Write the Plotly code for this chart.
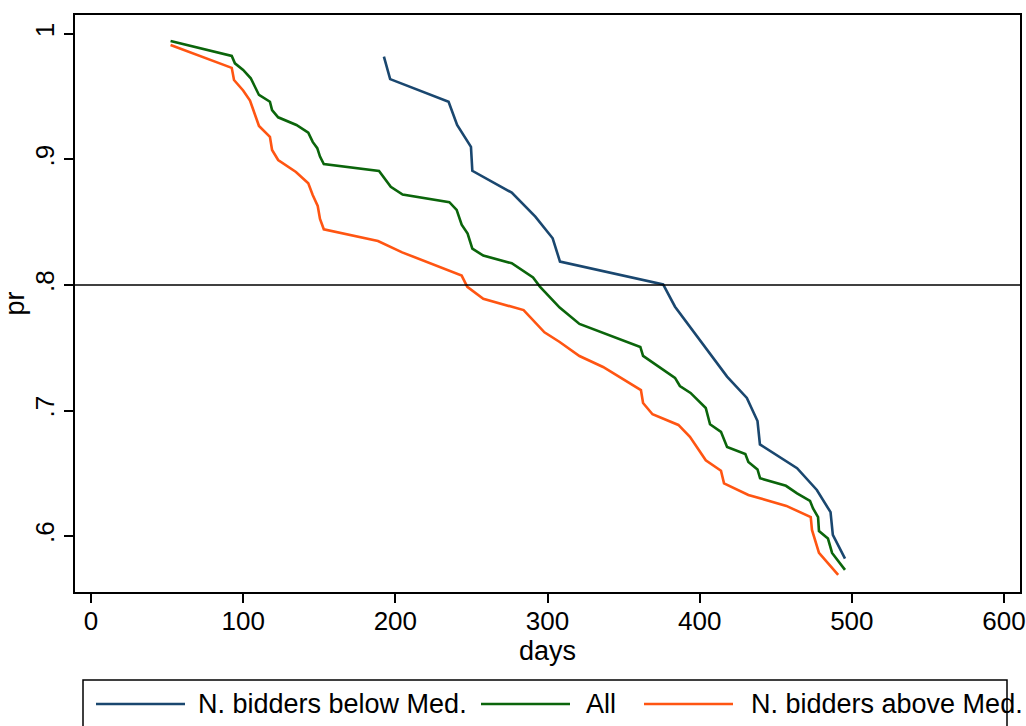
import plotly.graph_objects as go

# ---- data ----
below_days = [192.5, 196.6, 235, 240.6, 249.7, 250.6, 276.5, 292, 303.4, 308.2, 376,
              383.8, 418, 431, 438, 439.6, 464, 477, 486, 487.5, 495.5]
below_pr = [0.982, 0.964, 0.946, 0.9275, 0.910, 0.891, 0.8736, 0.8545, 0.8372, 0.8186, 0.8005,
            0.7827, 0.727, 0.710, 0.6916, 0.673, 0.654, 0.6367, 0.619, 0.601, 0.582]

all_days = [52.3, 92.5, 94.6, 100, 105, 110.4, 117.6, 119, 123, 135, 142.8, 145.7, 148.7, 150.5,
            153, 189.3, 197, 204.8, 235.5, 240.3, 243.6, 247.5, 250.6, 257.8, 276.5, 290.5, 295,
            303.6, 308, 321, 336, 361, 362.8, 383.8, 387, 394, 404, 406.8, 414, 418, 430, 432,
            438, 439.7, 456.7, 464, 472.5, 474.5, 477.8, 478.4, 484.3, 487, 495.5]
all_pr = [0.9944, 0.9825, 0.9766, 0.9713, 0.9647, 0.9514, 0.946, 0.9394, 0.9336, 0.9275, 0.9214,
          0.914, 0.909, 0.9023, 0.8964, 0.8908, 0.8783, 0.872, 0.866, 0.8598, 0.848, 0.841, 0.829,
          0.8234, 0.8173, 0.806, 0.7987, 0.788, 0.782, 0.769, 0.762, 0.7506, 0.7435, 0.726,
          0.7195, 0.714, 0.702, 0.689, 0.683, 0.671, 0.6653, 0.659, 0.653, 0.646, 0.640, 0.634,
          0.628, 0.622, 0.615, 0.604, 0.598, 0.5865, 0.573]

above_days = [52.3, 92.5, 94, 100, 104.5, 110.4, 117.6, 119, 123, 134.7, 142.8, 145.7, 149, 150.5,
              153, 188.6, 204.5, 243.6, 247.3, 257.8, 284.3, 298, 308, 321, 336.5, 361.4, 362.8,
              369, 386, 393.6, 404, 414, 416, 432, 457, 473, 473.8, 478.4, 491]
above_pr = [0.9912, 0.973, 0.9633, 0.955, 0.947, 0.9267, 0.918, 0.9076, 0.8996, 0.890, 0.881,
            0.8717, 0.863, 0.8526, 0.8444, 0.835, 0.826, 0.8075, 0.7985, 0.789, 0.780, 0.7623,
            0.7546, 0.7434, 0.7347, 0.7163, 0.706, 0.697, 0.6885, 0.679, 0.6603, 0.652, 0.642,
            0.6327, 0.624, 0.615, 0.6048, 0.5865, 0.569]

series_names = ["N. bidders below Med.", "All", "N. bidders above Med."]
x_ticks = [0, 100, 200, 300, 400, 500, 600]
y_ticks = [0.6, 0.7, 0.8, 0.9, 1.0]
y_ticktext = [".6", ".7", ".8", ".9", "1"]
ref_level = 0.8

# ---- style ----
colors = ["#1a476f", "#0b650b", "#ff5512"]
FONT = "Liberation Sans, Arial, sans-serif"
FS = 27
TFS = 26

W, H = 1026, 726
L, R, T, B = 75, 6, 15, 134
pw, ph = W - L - R, H - T - B


def px_x(p):
    return (p - L) / pw


def px_y(p):
    return (H - B - p) / ph


fig = go.Figure()
for xs, ys, name, c in zip([below_days, all_days, above_days],
                           [below_pr, all_pr, above_pr], series_names, colors):
    fig.add_trace(go.Scatter(x=xs, y=ys, mode="lines", name=name,
                             line=dict(color=c, width=2.6), showlegend=False))

fig.add_hline(y=ref_level, line=dict(color="black", width=1.5))

# manual legend (Stata style box that overflows)
shapes = [dict(type="rect", xref="paper", yref="paper",
               x0=px_x(83), x1=px_x(1007), y0=px_y(745), y1=px_y(680),
               line=dict(color="black", width=1.5), fillcolor="rgba(0,0,0,0)", layer="above")]
legend_pos = [(96, 185, 196), (481, 570, 584), (644, 733, 749)]
annotations = []
for (a, b, t), name, c in zip(legend_pos, series_names, colors):
    shapes.append(dict(type="line", xref="paper", yref="paper",
                       x0=px_x(a), x1=px_x(b), y0=px_y(704), y1=px_y(704),
                       line=dict(color=c, width=2.6)))
    annotations.append(dict(text=name, xref="paper", yref="paper", x=px_x(t), y=px_y(704),
                            xanchor="left", yanchor="middle", showarrow=False,
                            font=dict(family=FONT, size=FS, color="black")))

fig.update_layout(
    width=W, height=H,
    margin=dict(l=L, r=R, t=T, b=B, autoexpand=False),
    plot_bgcolor="white", paper_bgcolor="white",
    font=dict(family=FONT, size=FS, color="black"),
    shapes=list(fig.layout.shapes) + shapes,
    annotations=annotations,
    xaxis=dict(range=[-10.5, 610.5], tickvals=x_ticks, ticks="outside", ticklen=9,
               tickwidth=1.5, tickcolor="black", showline=True, linecolor="black",
               linewidth=1.5, mirror=True, showgrid=False, zeroline=False, automargin=False,
               ticklabelstandoff=-4, ticklabeloverflow="allow",
               title=dict(text="days", standoff=0, font=dict(size=FS)),
               tickfont=dict(size=TFS)),
    yaxis=dict(range=[0.5554, 1.0151], tickvals=y_ticks, ticktext=y_ticktext, tickangle=-90,
               ticks="outside", ticklen=9, tickwidth=1.5, tickcolor="black", showline=True,
               linecolor="black", linewidth=1.5, mirror=True, showgrid=False, zeroline=False,
               automargin=False, ticklabeloverflow="allow",
               title=dict(text="pr", standoff=2, font=dict(size=FS)),
               tickfont=dict(size=TFS)),
)

fig.write_html("out.html")
